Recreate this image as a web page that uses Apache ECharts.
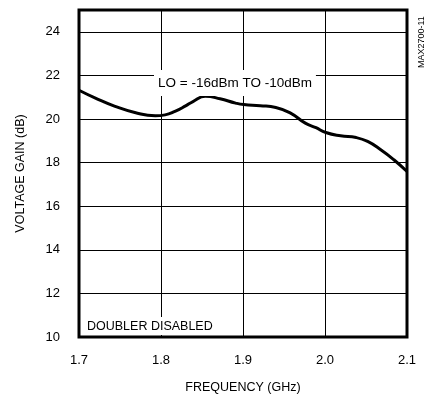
<!DOCTYPE html>
<html><head><meta charset="utf-8">
<script src="https://cdn.jsdelivr.net/npm/echarts@6/dist/echarts.min.js"></script>
<style>html,body{margin:0;padding:0;background:#fff}#c{width:431px;height:395px}</style>
</head><body><div id="c"></div>
<script>
var freq = [1.700,1.720,1.744,1.768,1.793,1.805,1.817,1.830,1.839,1.854,1.872,1.891,1.901,1.921,1.940,1.958,1.976,1.989,2.001,2.019,2.038,2.052,2.068,2.084,2.100];
var gain = [21.32,20.96,20.58,20.30,20.15,20.19,20.35,20.60,20.80,21.04,20.93,20.73,20.66,20.61,20.53,20.27,19.81,19.60,19.38,19.23,19.15,18.97,18.59,18.13,17.59];
var yTicks = [10,12,14,16,18,20,22,24];
var xTicks = ['1.7','1.8','1.9','2.0','2.1'];
var FONT = 'Liberation Sans, Arial, sans-serif';
var chart = echarts.init(document.getElementById('c'), null, {renderer:'canvas'});
chart.setOption({
  animation:false,
  backgroundColor:'#fff',
  grid:{left:79,right:24,top:10,bottom:58,containLabel:false,outerBoundsMode:'none',show:true,borderColor:'#000',borderWidth:3,backgroundColor:'transparent',z:10},
  xAxis:{type:'value',min:1.7,max:2.1,interval:0.1,
    name:'FREQUENCY (GHz)',nameLocation:'middle',nameGap:44,
    nameTextStyle:{fontFamily:FONT,fontSize:12.5,color:'#000'},
    axisLine:{show:false},axisTick:{show:false},
    axisLabel:{fontFamily:FONT,fontSize:13,color:'#000',margin:17,
      formatter:function(v){var s=v.toFixed(1);return xTicks.indexOf(s)>=0?s:'';}},
    splitLine:{show:true,lineStyle:{color:'#000',width:1}}},
  yAxis:{type:'value',min:10,max:25,interval:2,
    name:'VOLTAGE GAIN (dB)',nameLocation:'middle',nameGap:52,
    nameTextStyle:{fontFamily:FONT,fontSize:12.5,color:'#000'},
    axisLine:{show:false},axisTick:{show:false},
    axisLabel:{fontFamily:FONT,fontSize:13,color:'#000',margin:19,showMaxLabel:false,
      formatter:function(v){return yTicks.indexOf(v)>=0?String(v):'';}},
    splitLine:{show:true,lineStyle:{color:'#000',width:1}}},
  series:[{type:'line',data:freq.map(function(f,i){return [f,gain[i]];}),
    smooth:0.5,symbol:'none',lineStyle:{color:'#000',width:3},z:5}],
  graphic:[
    {type:'text',z:20,style:{text:'LO = -16dBm TO -10dBm',fontFamily:FONT,fontSize:13.5,fill:'#000',
      backgroundColor:'#fff',padding:[6,4,6,4]},position:[154,70]},
    {type:'text',z:20,style:{text:'DOUBLER DISABLED',fontFamily:FONT,fontSize:12.5,fill:'#000',
      backgroundColor:'#fff',padding:[3,3,2,3]},position:[84,317]},
    {type:'text',z:20,rotation:Math.PI/2,style:{text:'MAX2700-11',fontFamily:FONT,fontSize:9,fill:'#000'},position:[417,68]}
  ]
});
</script></body></html>
